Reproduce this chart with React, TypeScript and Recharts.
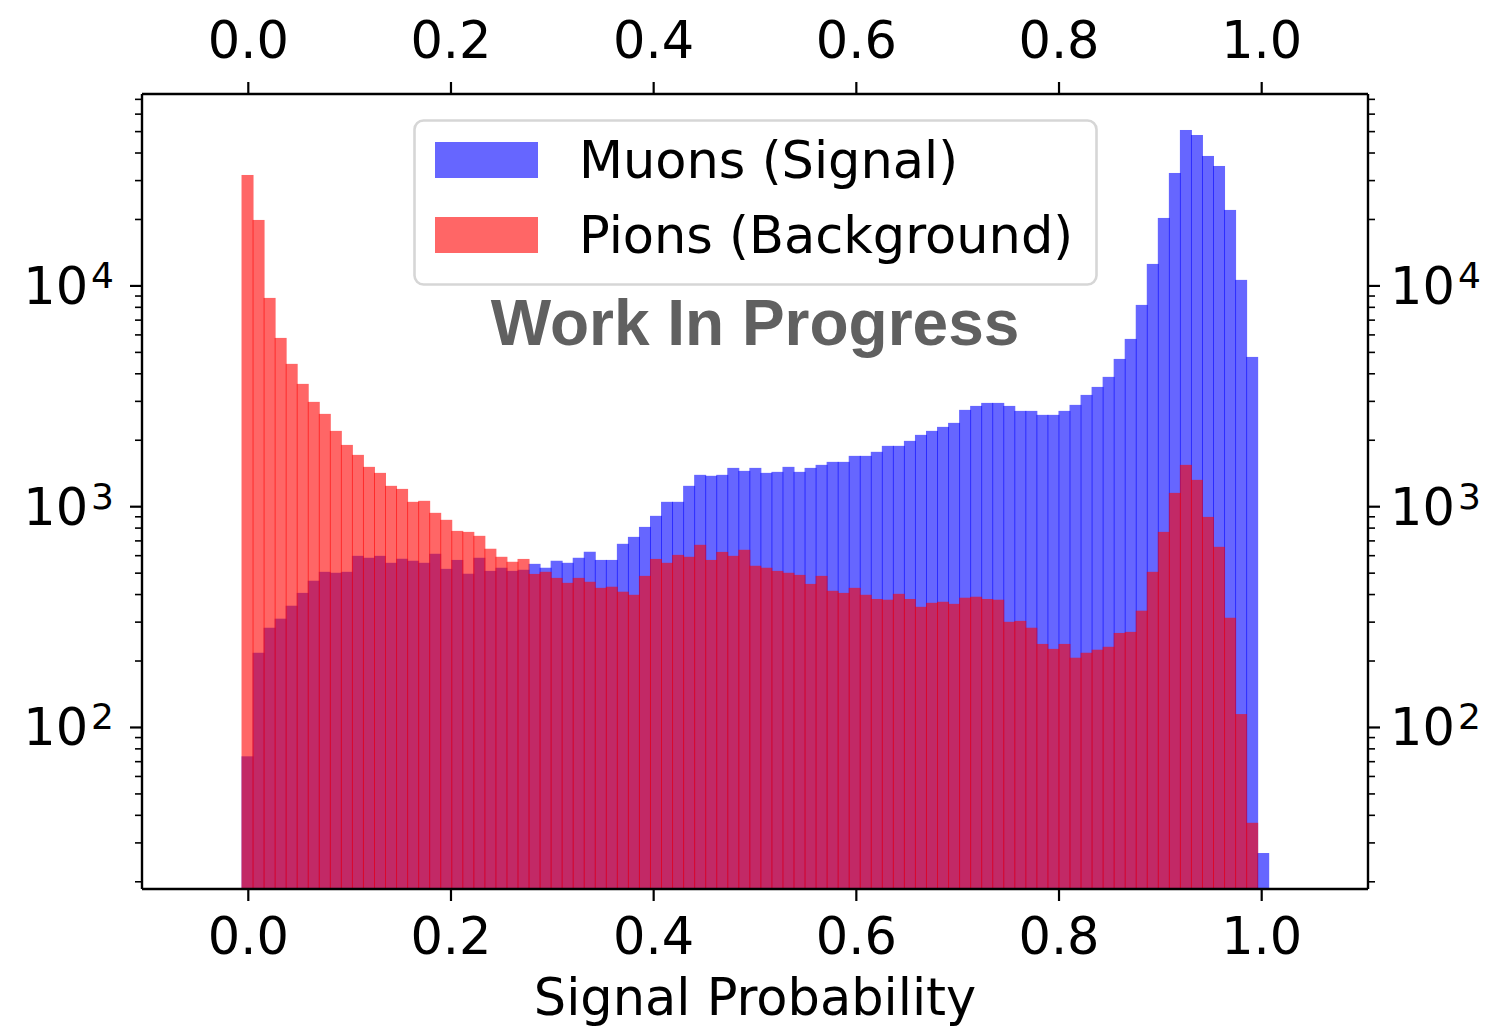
import React from "react";
import { BarChart, Bar, XAxis, YAxis, Legend } from "recharts";

// histogram binning (bin edges)
const BIN_START = -0.0062;
const BIN_WIDTH = 0.010894;

const muons = [
  74, 218, 283, 311, 356, 407, 462, 507, 502, 507,
  599, 587, 599, 557, 581, 569, 557, 612, 523, 574,
  497, 587, 512, 529, 512, 518, 551, 529, 569, 557,
  587, 625, 574, 574, 679, 730, 810, 909, 1052, 1052,
  1243, 1394, 1380, 1394, 1499, 1453, 1499, 1423, 1438, 1515,
  1438, 1499, 1547, 1596, 1596, 1699, 1699, 1772, 1886, 1886,
  1987, 2115, 2205, 2299, 2397, 2745, 2861, 2952, 2952, 2861,
  2716, 2716, 2606, 2606, 2716, 2892, 3209, 3488, 3873, 4671,
  5754, 8204, 12580, 20320, 32480, 50860, 48270, 38790, 34940, 22090,
  10650, 4769, 27,
];

const pions = [
  31810, 19900, 8825, 5815, 4436, 3600, 2984, 2633, 2205, 1905,
  1717, 1515, 1423, 1243, 1204, 1052, 1063, 938, 872, 777,
  769, 738, 645, 593, 563, 580, 496, 507, 476, 452,
  476, 457, 429, 434, 412, 399, 486, 580, 557, 605,
  593, 672, 574, 624, 599, 638, 540, 529, 512, 502,
  491, 447, 486, 416, 407, 429, 399, 382, 379, 403,
  382, 352, 367, 371, 363, 387, 391, 382, 379, 301,
  304, 283, 239, 227, 239, 207, 218, 225, 232, 268,
  271, 338, 507, 769, 1155, 1547, 1323, 899, 658, 314,
  115, 37, null,
];

const xTicks = [0, 0.2, 0.4, 0.6, 0.8, 1.0];
const yMajor = [100, 1000, 10000];
const yMinor = [
  20, 30, 40, 50, 60, 70, 80, 90,
  200, 300, 400, 500, 600, 700, 800, 900,
  2000, 3000, 4000, 5000, 6000, 7000, 8000, 9000,
  20000, 30000, 40000, 50000, 60000, 70000,
];

const data = muons.map((m, i) => ({
  x: BIN_START + (i + 0.5) * BIN_WIDTH,
  muons: m,
  pions: pions[i],
}));

const FONT = "'DejaVu Sans', Verdana, sans-serif";

// bars slightly overlap like matplotlib's antialiased seams
function histShape(color: string) {
  // eslint-disable-next-line @typescript-eslint/no-explicit-any
  return (p: any) => {
    const { x, y, width, height } = p;
    if (![x, y, width, height].every(Number.isFinite) || height <= 0) return <g />;
    return (
      <rect x={x - 0.5} y={y} width={width + 1} height={height} fill={color} fillOpacity={0.6} />
    );
  };
}

// eslint-disable-next-line @typescript-eslint/no-explicit-any
function LogTick({ x, y, payload, side }: any) {
  const v = payload.value as number;
  const major = yMajor.includes(v);
  const left = side === "left";
  const dir = left ? -1 : 1;
  const len = major ? 12 : 7;
  const exp = Math.round(Math.log10(v));
  return (
    <g>
      <line x1={x} x2={x + dir * len} y1={y} y2={y} stroke="#000" strokeWidth={major ? 2.2 : 1.6} />
      {major && (
        <text
          x={x + dir * (left ? 28 : 22)}
          y={y + 18}
          textAnchor={left ? "end" : "start"}
          fontSize={51}
          fontFamily={FONT}
          fill="#000"
        >
          10
          <tspan dx={3} dy={-16} fontSize={36}>
            {exp}
          </tspan>
        </text>
      )}
    </g>
  );
}

// eslint-disable-next-line @typescript-eslint/no-explicit-any
function XLabel({ viewBox }: any) {
  return (
    <text
      x={viewBox.x + viewBox.width / 2}
      y={viewBox.y + 126}
      textAnchor="middle"
      fontSize={51}
      fontFamily={FONT}
      fill="#000"
    >
      Signal Probability
    </text>
  );
}

// eslint-disable-next-line @typescript-eslint/no-explicit-any
function HistLegend({ payload }: any) {
  const rows = payload ?? [];
  return (
    <svg width={686} height={168} style={{ display: "block" }}>
      <rect x={1.5} y={1.5} width={682} height={164} rx={9} fill="#fff" stroke="#d6d6d6" strokeWidth={2.6} />
      {/* eslint-disable-next-line @typescript-eslint/no-explicit-any */}
      {rows.map((e: any, i: number) => (
        <g key={e.value}>
          <rect x={22} y={23 + i * 75} width={103} height={36} fill={e.color} fillOpacity={0.6} />
          <text x={166} y={59 + i * 75} fontSize={51} fontFamily={FONT} fill="#000">
            {e.value}
          </text>
        </g>
      ))}
    </svg>
  );
}

const axisLine = { stroke: "#000", strokeWidth: 2.4 };
const tickLine = { stroke: "#000", strokeWidth: 2.2 };
const tickFont = { fontSize: 51, fill: "#000", fontFamily: FONT };
const yDomain = [18.55, 74020];
const xDomain = [-0.1049, 1.1049];

export default function App() {
  return (
    <div style={{ position: "absolute", left: 0, top: 0, width: 1496, height: 1031, background: "#fff" }}>
      <BarChart
        width={1496}
        height={1031}
        data={data}
        margin={{ top: 0, right: 0, bottom: 0, left: 0 }}
        barCategoryGap={0}
        barGap={0}
      >
        <XAxis
          xAxisId="bottom"
          type="number"
          dataKey="x"
          domain={xDomain}
          allowDataOverflow
          ticks={xTicks}
          interval={0}
          tickFormatter={(v: number) => v.toFixed(1)}
          height={142}
          tickSize={12}
          tickMargin={17}
          axisLine={axisLine}
          tickLine={tickLine}
          tick={tickFont}
          label={<XLabel />}
        />
        <XAxis
          xAxisId="top"
          orientation="top"
          type="number"
          dataKey="x"
          domain={xDomain}
          allowDataOverflow
          ticks={xTicks}
          interval={0}
          tickFormatter={(v: number) => v.toFixed(1)}
          height={94}
          tickSize={12}
          tickMargin={24}
          axisLine={axisLine}
          tickLine={tickLine}
          tick={tickFont}
        />
        <YAxis
          yAxisId="left"
          scale="log"
          type="number"
          domain={yDomain}
          allowDataOverflow
          ticks={[...yMajor, ...yMinor]}
          interval={0}
          width={142}
          tickSize={0}
          tickMargin={0}
          axisLine={axisLine}
          tickLine={false}
          tick={(p: object) => <LogTick {...p} side="left" />}
        />
        <YAxis
          yAxisId="right"
          orientation="right"
          scale="log"
          type="number"
          domain={yDomain}
          allowDataOverflow
          ticks={[...yMajor, ...yMinor]}
          interval={0}
          width={128}
          tickSize={0}
          tickMargin={0}
          axisLine={axisLine}
          tickLine={false}
          tick={(p: object) => <LogTick {...p} side="right" />}
        />
        <Legend
          layout="vertical"
          align="center"
          verticalAlign="middle"
          wrapperStyle={{ left: 413, top: 119, width: 686, height: 168 }}
          content={<HistLegend />}
        />
        <Bar
          xAxisId="bottom"
          yAxisId="left"
          dataKey="muons"
          name="Muons (Signal)"
          fill="#0000ff"
          fillOpacity={0.6}
          shape={histShape("#0000ff")}
          isAnimationActive={false}
        />
        <Bar
          xAxisId="top"
          yAxisId="left"
          dataKey="pions"
          name="Pions (Background)"
          fill="#ff0000"
          fillOpacity={0.6}
          shape={histShape("#ff0000")}
          isAnimationActive={false}
        />
      </BarChart>
      <svg
        width={1496}
        height={1031}
        style={{ position: "absolute", left: 0, top: 0, pointerEvents: "none" }}
      >
        <text
          x={755}
          y={345}
          textAnchor="middle"
          fontSize={64}
          fontWeight="bold"
          fontFamily="'Liberation Sans', Arial, Helvetica, sans-serif"
          fill="#606060"
        >
          Work In Progress
        </text>
      </svg>
    </div>
  );
}
